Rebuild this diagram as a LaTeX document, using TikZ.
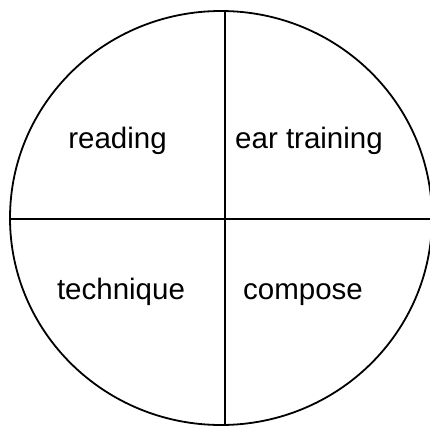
\documentclass[tikz,border=0pt]{standalone}
\usepackage{fontspec}
\setmainfont{Liberation Sans}
\begin{document}
\begin{tikzpicture}[x=1pt,y=-1pt,
  outline/.style={draw=black,line width=1.8pt},
  label/.style={font=\fontsize{29.5}{32}\selectfont,inner sep=0pt,anchor=base}]
\useasboundingbox (0,0) rectangle (430,425);
\clip (0,0) rectangle (430,425);
\fill[white] (0,0) rectangle (430,425);
\draw[outline] (221,218) ellipse [x radius=211, y radius=207];
\coordinate (top) at (225,11);
\coordinate (bottom) at (225,430);
\coordinate (left) at (10,219);
\coordinate (right) at (435,219);
\draw[outline] (top) -- (bottom);
\draw[outline] (left) -- (right);
\node[label] (reading) at (117.5,148) {reading};
\node[label] (ear) at (309,148) {ear training};
\node[label] (technique) at (121,299) {technique};
\node[label] (compose) at (303,299) {compose};
\end{tikzpicture}
\end{document}
